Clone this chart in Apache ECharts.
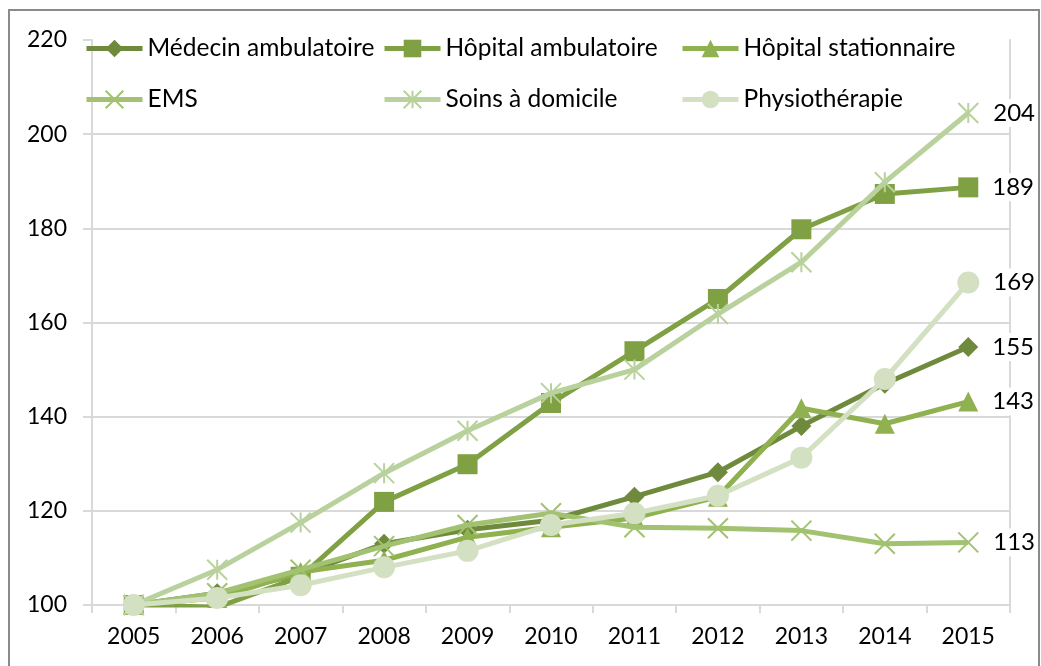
<!DOCTYPE html>
<html>
<head>
<meta charset="utf-8">
<script src="https://cdn.jsdelivr.net/npm/echarts@6/dist/echarts.min.js"></script>
<style>html,body{margin:0;padding:0;background:#fff}#c{width:1041px;height:666px}</style>
</head>
<body>
<div id="c"></div>
<script>
const years = ['2005','2006','2007','2008','2009','2010','2011','2012','2013','2014','2015'];
const yTicks = [100,120,140,160,180,200,220];
const medecinAmb = [100,102.5,106.5,113,116,118,123,128.2,138,147,154.8];
const hopitalAmb = [100,99.5,106,121.9,129.9,142.9,153.9,165,179.8,187.3,188.7];
const hopitalStat = [100,101.5,107,109.5,114.4,116.5,118.5,123,141.8,138.5,143.2];
const ems = [100,102.5,107.5,112.5,117,119.5,116.5,116.3,115.8,113,113.3];
const soins = [100,107.5,117.5,128,137,145,150,161.8,172.8,189.8,204.5];
const physio = [100,101.5,104.2,108,111.5,117,119.5,123.2,131.3,148,168.5];
const endLabels = ['155','189','143','113','204','169'];
const names = ['Médecin ambulatoire','Hôpital ambulatoire','Hôpital stationnaire','EMS','Soins à domicile','Physiothérapie'];

const FONT = 'Lato';
const colors = ['#6f8a3c','#80a044','#8fb150','#a2c272','#b9d19c','#d3e0c2'];
const xPath = 'path://M0,0L10,10M10,0L0,10';
const starPath = 'path://M5,0L5,10M0,0L10,10M10,0L0,10';
const symbols = ['diamond','rect','triangle',xPath,starPath,'circle'];
const sizes = [20,20,20,20,20,22];
const datasets = [medecinAmb,hopitalAmb,hopitalStat,ems,soins,physio];

const series = datasets.map((d,i)=>{
  const stroke = (i===3||i===4);
  const last = d.length-1;
  return {
    name: names[i],
    type: 'line',
    data: d.map((v,k)=> k===last ? {value: v, label: {show: true, formatter: endLabels[i]}} : v),
    symbol: symbols[i],
    symbolSize: sizes[i],
    showAllSymbol: true,
    lineStyle: {color: colors[i], width: 5},
    itemStyle: stroke ? {color: 'rgba(0,0,0,0)', borderColor: colors[i], borderWidth: 2} : {color: colors[i], borderWidth: 0},
    emphasis: {disabled: true},
    animation: false,
    label: {
      show: false,
      position: 'right',
      distance: 12,
      fontFamily: FONT, fontSize: 24, color: '#000',
      backgroundColor: '#fff', padding: [2,2,2,2]
    },
    z: 2+i
  };
});

const legendBase = {
  orient: 'vertical', top: 36, itemWidth: 56, itemHeight: 22, itemGap: 26, padding: 0,
  textStyle: {fontFamily: FONT, fontSize: 24.5, color: '#000', lineHeight: 24},
  lineStyle: {width: 5},
  selectedMode: false, backgroundColor: 'rgba(0,0,0,0)'
};

const chart = echarts.init(document.getElementById('c'), null, {renderer: 'canvas'});
chart.setOption({
  animation: false,
  backgroundColor: '#fff',
  color: colors,
  graphic: [{type: 'rect', shape: {x: 9, y: 10, width: 1030, height: 700}, style: {fill: 'none', stroke: '#8a8a8a', lineWidth: 2}, z: 100, silent: true}],
  legend: [
    Object.assign({}, legendBase, {left: 84, data: [names[0], names[3]]}),
    Object.assign({}, legendBase, {left: 382, data: [names[1], names[4]]}),
    Object.assign({}, legendBase, {left: 680, data: [names[2], names[5]]})
  ],
  grid: {left: 92, right: 31, top: 40, bottom: 61, containLabel: false},
  xAxis: {
    type: 'category', data: years, boundaryGap: true,
    axisLine: {show: true, lineStyle: {color: '#d9d9d9', width: 2}},
    axisTick: {show: true, length: 8, lineStyle: {color: '#d9d9d9', width: 2}},
    axisLabel: {fontFamily: FONT, fontSize: 23, color: '#000', margin: 20}
  },
  yAxis: [{
    type: 'value', min: 100, max: 220, interval: 20,
    axisLine: {show: true, lineStyle: {color: '#d9d9d9', width: 2}},
    axisTick: {show: true, length: 9, lineStyle: {color: '#d9d9d9', width: 2}},
    axisLabel: {fontFamily: FONT, fontSize: 23, color: '#000', margin: 25,
      formatter: (v)=> yTicks.indexOf(v)>=0 ? String(v) : ''},
    splitLine: {show: true, lineStyle: {color: ['#d9d9d9','#d9d9d9','#d9d9d9','#d9d9d9','#d9d9d9','#d9d9d9','rgba(0,0,0,0)'], width: 2}}
  },{
    type: 'value', min: 100, max: 220, interval: 20, position: 'right',
    axisLine: {show: true, lineStyle: {color: '#d9d9d9', width: 2}},
    axisTick: {show: false}, axisLabel: {show: false}, splitLine: {show: false}
  }],
  series: series
});
</script>
</body>
</html>
